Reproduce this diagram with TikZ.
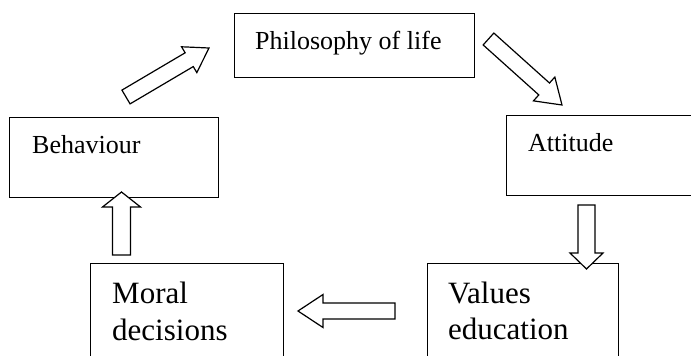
\documentclass[tikz,border=0pt]{standalone}
\usepackage{fontspec}
\setmainfont{Liberation Serif}
\usetikzlibrary{calc}
\tikzset{
  box/.style={draw, line width=1.3pt, rectangle, inner sep=0pt, anchor=north west},
  lbl/.style={inner sep=0pt, anchor=base west, font=\fontsize{26}{30}\selectfont},
  biglbl/.style={inner sep=0pt, anchor=base west, font=\fontsize{31}{36}\selectfont},
  blockarrow/.style={draw, line width=1.2pt, fill=white, line join=miter}
}
% tail, tip, half shaft width, half head width, head length
\newcommand\blockarr[5]{%
  \coordinate (hb) at ($(#2)!#5!(#1)$);
  \draw[blockarrow] ($(#1)!#3!90:(#2)$) -- ($(hb)!#3!90:(#2)$) -- ($(hb)!#4!90:(#2)$) -- (#2)
    -- ($(hb)!#4!-90:(#2)$) -- ($(hb)!#3!-90:(#2)$) -- ($(#1)!#3!-90:(#2)$) -- cycle;
}
\begin{document}
\begin{tikzpicture}[x=1pt,y=-1pt]
\useasboundingbox (0,0) rectangle (691,356);
\fill[white] (0,0) rectangle (691,356);
\clip (0,0) rectangle (691,356);
% boxes
\node[box, minimum width=240pt, minimum height=64pt] (phil) at (234,13) {};
\node[box, minimum width=200pt, minimum height=80pt] (att) at (506,115) {};
\node[box, minimum width=191pt, minimum height=110pt] (val) at (427,263) {};
\node[box, minimum width=193pt, minimum height=110pt] (mor) at (90,263) {};
\node[box, minimum width=209pt, minimum height=80pt] (beh) at (9,117) {};
% texts
\node[lbl] (philt) at (255,49) {Philosophy of life};
\node[lbl] (attt) at (528,151) {Attitude};
\node[lbl] (beht) at (32,153) {Behaviour};
\node[biglbl] (valt) at (448,303) {\vtop{\baselineskip=36pt\hbox{Values}\hbox{education}}};
\node[biglbl] (mort) at (112,303) {\vtop{\baselineskip=37pt\hbox{Moral}\hbox{decisions}}};
% arrow end points
\coordinate (a1s) at (126,97);
\coordinate (a1e) at (209,48);
\coordinate (a2s) at (488.5,39);
\coordinate (a2e) at (562,105);
\coordinate (a3s) at (586.5,205);
\coordinate (a3e) at (586.5,269);
\coordinate (a4s) at (395,311);
\coordinate (a4e) at (298,311);
\coordinate (a5s) at (121.5,255);
\coordinate (a5e) at (121.5,192);
% block arrows
\blockarr{a1s}{a1e}{8pt}{15pt}{23pt}
\blockarr{a2s}{a2e}{8pt}{16pt}{24pt}
\blockarr{a3s}{a3e}{8.5pt}{16.5pt}{16pt}
\blockarr{a4s}{a4e}{8pt}{16.5pt}{25pt}
\blockarr{a5s}{a5e}{9pt}{19pt}{15pt}
\end{tikzpicture}
\end{document}
